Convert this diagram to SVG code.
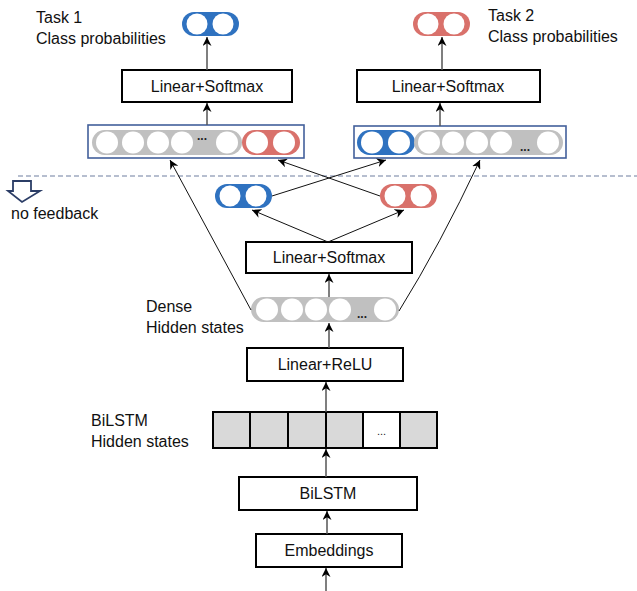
<svg xmlns="http://www.w3.org/2000/svg" width="637" height="591" viewBox="0 0 637 591">
<defs>
<style>
text{font-family:"Liberation Sans",Arial,sans-serif;font-size:16px;fill:#111}
.box{fill:#fff;stroke:#000;stroke-width:2}
.bt{text-anchor:middle;font-size:16px}
.blue{fill:#2f72c0}
.red{fill:#d9716b}
.gray{fill:#c0c0c0}
.c{fill:#fff}
.cont{fill:none;stroke:#43609b;stroke-width:1.6}
.dots{font-size:12px;font-weight:bold;text-anchor:middle;fill:#222}
.v{stroke:#555;stroke-width:1.5;fill:none}
.d{stroke:#111;stroke-width:1;fill:none}
.cell{fill:#d9d9d9;stroke:#000;stroke-width:2}
</style>
<marker id="ah" viewBox="0 0 10 10" refX="10" refY="5" markerWidth="9" markerHeight="9" markerUnits="userSpaceOnUse" orient="auto">
<path d="M0,0 L10,5 L0,10 L3,5 z" fill="#000"/>
</marker>
</defs>

<!-- dashed separator -->
<line x1="18" y1="176" x2="637" y2="176" stroke="#6f7ea0" stroke-width="1.2" stroke-dasharray="5,3"/>

<g id="no-feedback">
<path d="M13,181 L31,181 L31,191 L40,191 L22,202 L8,191 L13,191 Z" fill="#fff" stroke="#2b3d66" stroke-width="1.8" stroke-linejoin="miter"/>
<text x="11" y="219">no feedback</text>
</g>

<g id="task1-label">
<text x="36" y="23">Task 1</text>
<text x="36" y="44">Class probabilities</text>
</g>
<g id="task2-label">
<text x="488" y="21">Task 2</text>
<text x="488" y="42">Class probabilities</text>
</g>

<g id="task1-output">
<rect x="182" y="12" width="57" height="24" rx="12" class="blue"/>
<circle cx="197" cy="24" r="10.5" class="c"/>
<circle cx="223" cy="24" r="10.5" class="c"/>
</g>
<g id="task2-output">
<rect x="413" y="12" width="57" height="24" rx="12" class="red"/>
<circle cx="428" cy="24" r="10.5" class="c"/>
<circle cx="454" cy="24" r="10.5" class="c"/>
</g>

<g id="task1-softmax">
<rect x="122" y="70" width="170" height="32" class="box"/>
<text x="207" y="92" class="bt">Linear+Softmax</text>
</g>
<g id="task2-softmax">
<rect x="357" y="70" width="183" height="32" class="box"/>
<text x="448" y="92" class="bt">Linear+Softmax</text>
</g>

<g id="task1-concat">
<rect x="88" y="125" width="216" height="33" class="cont"/>
<rect x="92" y="130" width="150" height="25" rx="12.5" class="gray"/>
<circle cx="107" cy="142.5" r="11" class="c"/>
<circle cx="133" cy="142.5" r="11" class="c"/>
<circle cx="158" cy="142.5" r="11" class="c"/>
<circle cx="182" cy="142.5" r="11" class="c"/>
<text x="202" y="140" class="dots">...</text>
<circle cx="227" cy="142.5" r="11" class="c"/>
<rect x="242" y="130" width="58" height="25" rx="12.5" class="red"/>
<circle cx="257" cy="142.5" r="11" class="c"/>
<circle cx="284" cy="142.5" r="11" class="c"/>
</g>

<g id="task2-concat">
<rect x="354" y="126" width="212" height="32" class="cont"/>
<rect x="357" y="130" width="58" height="25" rx="12.5" class="blue"/>
<circle cx="372" cy="142.5" r="11" class="c"/>
<circle cx="399" cy="142.5" r="11" class="c"/>
<rect x="414" y="130" width="149" height="25" rx="12.5" class="gray"/>
<circle cx="429" cy="142.5" r="11" class="c"/>
<circle cx="453" cy="142.5" r="11" class="c"/>
<circle cx="477" cy="142.5" r="11" class="c"/>
<circle cx="501" cy="142.5" r="11" class="c"/>
<text x="525" y="151" class="dots">...</text>
<circle cx="548" cy="142.5" r="11" class="c"/>
</g>

<g id="mid-blue">
<rect x="215" y="184" width="57" height="24" rx="12" class="blue"/>
<circle cx="230" cy="196" r="10.5" class="c"/>
<circle cx="256" cy="196" r="10.5" class="c"/>
</g>
<g id="mid-red">
<rect x="380" y="184" width="57" height="24" rx="12" class="red"/>
<circle cx="395" cy="196" r="10.5" class="c"/>
<circle cx="421" cy="196" r="10.5" class="c"/>
</g>

<g id="mid-softmax">
<rect x="246" y="242" width="166" height="31" class="box"/>
<text x="329" y="263" class="bt">Linear+Softmax</text>
</g>

<g id="dense">
<text x="146" y="312">Dense</text>
<text x="146" y="333">Hidden states</text>
<rect x="251" y="297" width="148" height="25" rx="12.5" class="gray"/>
<circle cx="267" cy="309.5" r="11" class="c"/>
<circle cx="292" cy="309.5" r="11" class="c"/>
<circle cx="316" cy="309.5" r="11" class="c"/>
<circle cx="340" cy="309.5" r="11" class="c"/>
<text x="362" y="318" class="dots">...</text>
<circle cx="385" cy="309.5" r="11" class="c"/>
</g>

<g id="relu">
<rect x="247" y="348" width="156" height="33" class="box"/>
<text x="325" y="370" class="bt">Linear+ReLU</text>
</g>

<g id="bilstm-states">
<text x="91" y="426">BiLSTM</text>
<text x="91" y="447">Hidden states</text>
<rect x="213" y="412" width="37" height="36" class="cell"/>
<rect x="250" y="412" width="38" height="36" class="cell"/>
<rect x="288" y="412" width="38" height="36" class="cell" stroke-width="2.5"/>
<rect x="326" y="412" width="37" height="36" class="cell"/>
<rect x="363" y="412" width="37" height="36" class="cell" style="fill:#fff"/>
<rect x="400" y="412" width="37" height="36" class="cell"/>
<text x="381.5" y="435" class="dots" style="font-size:11px;font-weight:normal">...</text>
</g>

<g id="bilstm">
<rect x="239" y="477" width="178" height="33" class="box"/>
<text x="328" y="499" class="bt">BiLSTM</text>
</g>

<g id="embeddings">
<rect x="256" y="534" width="146" height="33" class="box"/>
<text x="329" y="556" class="bt">Embeddings</text>
</g>

<g id="connectors" marker-end="url(#ah)">
<line x1="326" y1="591" x2="326" y2="568" class="v"/>
<line x1="327" y1="534" x2="327" y2="511" class="v"/>
<line x1="326" y1="477" x2="326" y2="449" class="v"/>
<line x1="326" y1="412" x2="326" y2="382" class="v"/>
<line x1="329" y1="348" x2="329" y2="323" class="v"/>
<line x1="329" y1="297" x2="329" y2="274" class="v"/>
<line x1="328" y1="242" x2="252" y2="210" class="d"/>
<line x1="328" y1="242" x2="404" y2="210" class="d"/>
<line x1="272" y1="196" x2="386" y2="160" class="d"/>
<line x1="380" y1="196" x2="278" y2="160" class="d"/>
<line x1="251" y1="310" x2="170" y2="160" class="d"/>
<path d="M399,311 Q440,245 480,160" class="d"/>
<line x1="207" y1="125" x2="207" y2="103" class="v"/>
<line x1="207" y1="70" x2="207" y2="37" class="v"/>
<line x1="440" y1="126" x2="440" y2="103" class="v"/>
<line x1="442" y1="70" x2="442" y2="37" class="v"/>
</g>
</svg>
